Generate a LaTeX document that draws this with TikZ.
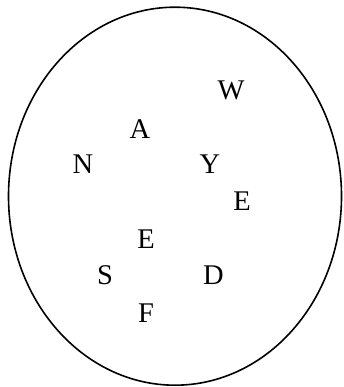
\documentclass[tikz,border=0pt]{standalone}
\usepackage{fontspec}
\setmainfont{Liberation Serif}
\usetikzlibrary{positioning}

\begin{document}
\begin{tikzpicture}[x=1pt, y=-1pt,
    letter/.style={inner sep=0pt, font=\fontsize{28.5}{30}\selectfont}]
      \useasboundingbox (0,0) rectangle (343,387);
      % Set
      \draw[line width=1.6pt] (175,196.2) ellipse (166.5 and 189);
      % Elements
      \node[letter] (w)  at (231,90)  {W};
      \node[letter] (a)  at (140,129) {A};
      \node[letter] (n)  at (83,164.5) {N};
      \node[letter] (y)  at (210,164.5) {Y};
      \node[letter] (e1) at (242,201) {E};
      \node[letter] (e2) at (146,239) {E};
      \node[letter] (s)  at (105,275) {S};
      \node[letter] (d)  at (213.5,275) {D};
      \node[letter] (f)  at (146,313) {F};
    \end{tikzpicture}
\end{document}
